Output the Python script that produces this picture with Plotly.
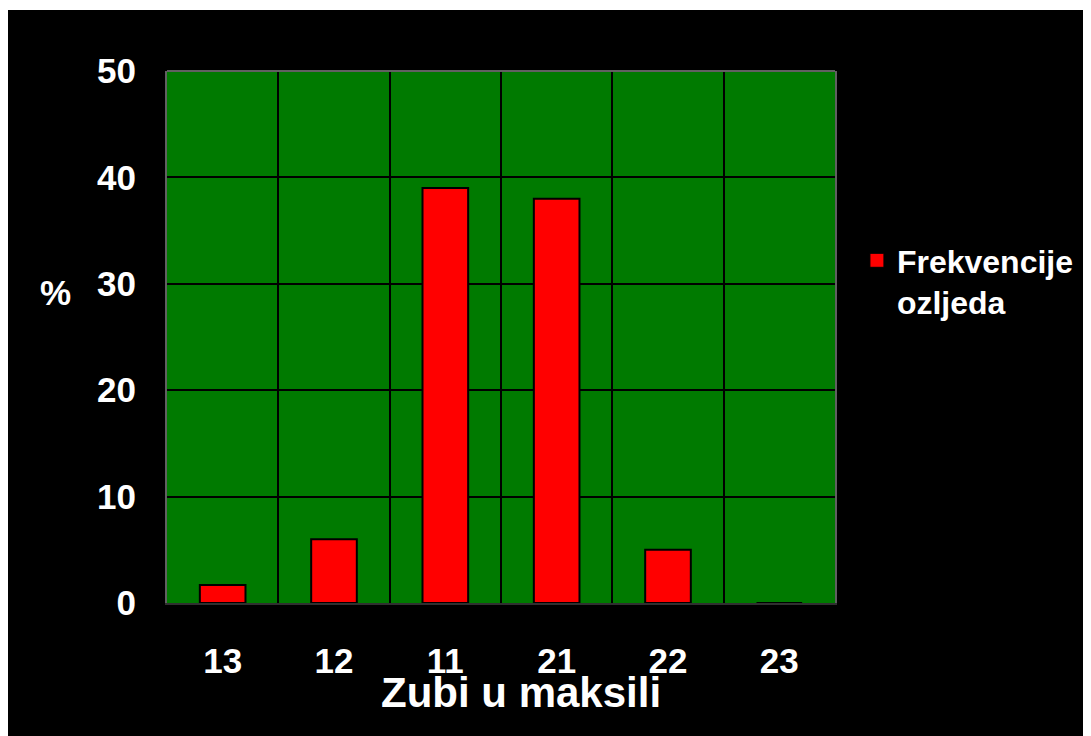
import plotly.graph_objects as go

teeth = ['13', '12', '11', '21', '22', '23']
freq = [1.7, 6, 39, 38, 5, 0]
y_ticks = [0, 10, 20, 30, 40, 50]

# page has an 8px body margin, so the figure starts at (8, 8)
OFF = 8
W, H = 1083, 728
L, T = 167 - OFF, 71 - OFF
pw, ph = 670, 532
R, B = W - L - pw, H - T - ph


def px_x(x):
    return (x - OFF - L) / pw


def px_y(y):
    return (T + ph - (y - OFF)) / ph


FONT = 'Liberation Sans, Arial, sans-serif'
WHITE = '#ffffff'

fig = go.Figure()
fig.add_trace(go.Bar(
    x=teeth,
    y=freq,
    showlegend=False,
    marker=dict(color='#ff0000', line=dict(color='#000000', width=2)),
))
# legend entry only
fig.add_trace(go.Scatter(
    x=[None], y=[None], mode='markers',
    name='Frekvencije<br>ozljeda',
    marker=dict(symbol='square', size=14, color='#ff0000', line=dict(color='#000000', width=1)),
))

fig.update_layout(
    width=W,
    height=H,
    margin=dict(l=L, r=R, t=T, b=B),
    paper_bgcolor='#000000',
    plot_bgcolor='#007a00',
    bargap=0.59,
    font=dict(family=FONT, color=WHITE, weight='bold'),
    showlegend=True,
    legend=dict(
        x=px_x(859), y=px_y(233), xanchor='left', yanchor='top',
        valign='top',
        font=dict(size=32, color=WHITE, family=FONT, weight='bold'),
        bgcolor='rgba(0,0,0,0)',
    ),
    xaxis=dict(
        type='category',
        tickson='boundaries',
        showgrid=True, gridcolor='#000000', gridwidth=2,
        ticks='', ticklabelstandoff=26,
        tickfont=dict(size=35, family=FONT, color=WHITE, weight='bold'),
        showline=True, linecolor='#303030', linewidth=2, mirror=False,
    ),
    yaxis=dict(
        range=[0, 50],
        tickvals=y_ticks,
        showgrid=True, gridcolor='#000000', gridwidth=2,
        ticks='outside', ticklen=22, tickcolor='#000000',
        tickfont=dict(size=35, family=FONT, color=WHITE, weight='bold'),
        showline=True, linecolor='#606060', linewidth=2, mirror=True,
        zeroline=False,
    ),
    annotations=[
        dict(text='%', x=px_x(55), y=px_y(292), xref='paper', yref='paper',
             xanchor='center', yanchor='middle', showarrow=False,
             font=dict(size=35, family=FONT, color=WHITE, weight='bold')),
        dict(text='Zubi u maksili', x=px_x(522), y=px_y(692), xref='paper', yref='paper',
             xanchor='center', yanchor='middle', showarrow=False,
             font=dict(size=42, family=FONT, color=WHITE, weight='bold')),
    ],
    shapes=[
        dict(type='line', xref='paper', yref='paper', layer='above',
             x0=0, x1=1, y0=1, y1=1, line=dict(color='#606060', width=2)),
        dict(type='rect', xref='paper', yref='paper', layer='above',
             x0=px_x(0), x1=px_x(1200), y0=px_y(10), y1=px_y(0),
             fillcolor=WHITE, line=dict(width=0)),
    ],
)

fig.write_html("out.html")
